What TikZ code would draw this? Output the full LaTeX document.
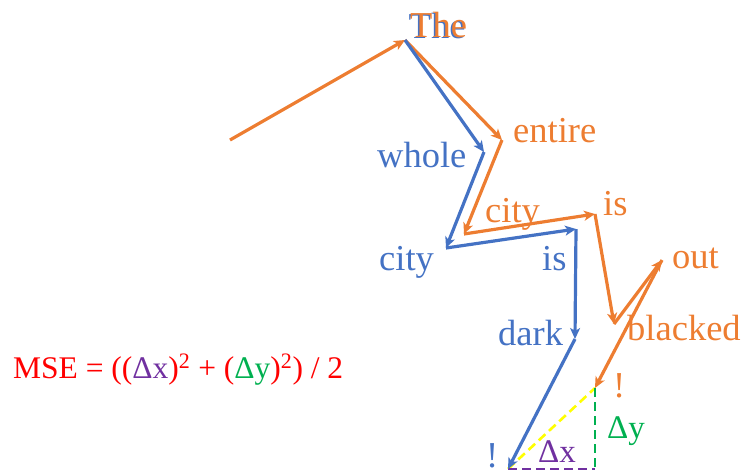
\documentclass[tikz,border=0pt]{standalone}
\usepackage{fontspec}
\setmainfont{Liberation Serif}
\usetikzlibrary{arrows.meta}
\definecolor{ora}{HTML}{ED7D31}
\definecolor{blu}{HTML}{4472C4}
\definecolor{msered}{HTML}{FF0000}
\definecolor{dxpur}{HTML}{7030A0}
\definecolor{dygrn}{HTML}{00B050}
\definecolor{ylw}{HTML}{FFFF00}
\tikzset{
  lbl/.style={anchor=base west, inner sep=0pt, font=\fontsize{36.5}{40}\selectfont},
  oarr/.style={ora, line width=3.2pt, -{Stealth[length=11pt,width=10pt,inset=3pt]}, line join=round},
  barr/.style={blu, line width=3.2pt, -{Stealth[length=11pt,width=10pt,inset=3pt]}, line join=round},
  dsh/.style={line width=2.6pt, dash pattern=on 9pt off 5pt}
}
\begin{document}
\begin{tikzpicture}[x=1pt,y=-1pt]
\useasboundingbox (0,0) rectangle (744,475);
% points
\coordinate (S) at (230,140);
\coordinate (T) at (405,40);
\coordinate (Eo) at (502,140);
\coordinate (Co) at (464,234);
\coordinate (Io) at (595,214);
\coordinate (Bo) at (614,324);
\coordinate (Out) at (662,260);
\coordinate (Xo) at (595,388);
\coordinate (Wb) at (484,152);
\coordinate (Cb) at (446,248);
\coordinate (Ib) at (576,229);
\coordinate (Db) at (575,339);
\coordinate (Xb) at (508,469);
\coordinate (Cr) at (595,469);
% dashed triangle
\draw[dsh, ylw] (Xb) -- (Xo);
\draw[dsh, dxpur] (Xb) -- (Cr);
\draw[dsh, dygrn] (Xo) -- (Cr);
% orange path
\draw[oarr] (S) -- (T);
\draw[oarr] (T) -- (Eo);
\draw[oarr] (Eo) -- (Co);
\draw[oarr] (Co) -- (Io);
\draw[oarr] (Io) -- (Bo);
\draw[oarr] (Bo) -- (Out);
\draw[oarr] (Out) -- (Xo);
% blue path
\draw[barr] (T) -- (Wb);
\draw[barr] (Wb) -- (Cb);
\draw[barr] (Cb) -- (Ib);
\draw[barr] (Ib) -- (Db);
\draw[barr] (Db) -- (Xb);
% labels
\node[lbl, blu] (theS) at (408.5,38.5) {The};
\node[lbl, ora] (the) at (410,37) {The};
\node[lbl, ora] (entire) at (513,142) {entire};
\node[lbl, blu] (whole) at (377,167) {whole};
\node[lbl, ora] (cityo) at (485,222) {city};
\node[lbl, ora] (iso) at (603,215) {is};
\node[lbl, blu] (cityb) at (379,270) {city};
\node[lbl, blu] (isb) at (542,270) {is};
\node[lbl, blu] (dark) at (498,345) {dark};
\node[lbl, ora] (out) at (672,268) {out};
\node[lbl, ora] (blacked) at (627,340) {blacked};
\node[lbl, ora] (exo) at (613,397) {!};
\node[lbl, blu] (exb) at (486,467) {!};
\node[lbl, dxpur, font=\fontsize{33}{36}\selectfont] (dx) at (538,462) {Δx};
\node[lbl, dygrn, font=\fontsize{33}{36}\selectfont] (dy) at (607,438) {Δy};
\node[lbl, msered, font=\fontsize{31.5}{34}\selectfont] (mse) at (13,378)
  {MSE = ((\textcolor{dxpur}{Δx})\textsuperscript{2} + (\textcolor{dygrn}{Δy})\textsuperscript{2}) / 2};
\end{tikzpicture}
\end{document}
